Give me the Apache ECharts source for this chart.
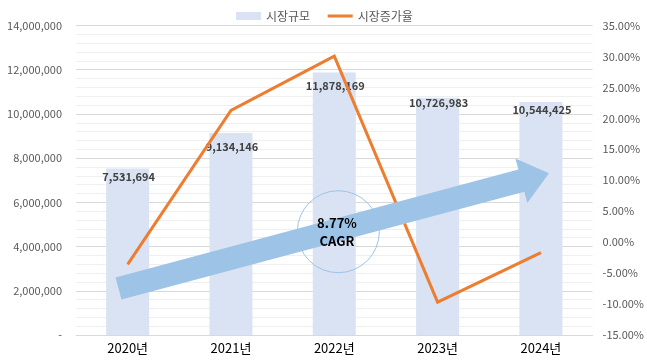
<!DOCTYPE html>
<html>
<head>
<meta charset="utf-8">
<script src="https://cdn.jsdelivr.net/npm/echarts@6/dist/echarts.min.js"></script>
<style>
html,body{margin:0;padding:0;background:#fff;}
#c{width:647px;height:360px;}
</style>
</head>
<body>
<div id="c"></div>
<script>
const categories = ['2020년', '2021년', '2022년', '2023년', '2024년'];
const marketSize = [7531694, 9134146, 11878169, 10726983, 10544425];
const growthRate = [-3.6, 21.28, 30.04, -9.69, -1.70];
const cagrText = '8.77%';
const cagrLabel = 'CAGR';
const seriesNames = ['시장규모', '시장증가율'];

// label nudges (style only)
const labelNudgeY = [2.6, 8.6, 7.7, -0.5, 2];

const font = '"Noto Sans CJK KR", "Noto Sans", sans-serif';
const chart = echarts.init(document.getElementById('c'), null, {renderer: 'canvas'});

function fmtNum(v) {
  if (v === 0) return '-';
  return v.toString().replace(/\B(?=(\d{3})+(?!\d))/g, ',');
}

// arrow annotation geometry
const T = [118.5, 288.5], P = [549, 173.3];
const dx = P[0] - T[0], dy = P[1] - T[1];
const L = Math.sqrt(dx * dx + dy * dy);
const ux = dx / L, uy = dy / L, nx = -uy, ny = ux;
const sw = 11.5, hw = 23, hl = 28.6;
function pt(a, b) { return [T[0] + ux * a + nx * b, T[1] + uy * a + ny * b]; }
const arrowPts = [pt(0, -sw), pt(L - hl, -sw), pt(L - hl, -hw), pt(L, 0), pt(L - hl, hw), pt(L - hl, sw), pt(0, sw)];

const option = {
  animation: false,
  textStyle: {fontFamily: font},
  legend: {
    top: 5,
    left: 231,
    itemGap: 16,
    itemWidth: 25,
    itemHeight: 8,
    textStyle: {color: '#595959', fontSize: 12, fontFamily: font},
    data: [
      {name: seriesNames[0], icon: 'rect'},
      {name: seriesNames[1], itemStyle: {opacity: 0}, lineStyle: {width: 3, color: '#ED7D31', opacity: 1}}
    ]
  },
  grid: {left: 76, right: 53, top: 25.5, bottom: 25, containLabel: false},
  xAxis: {
    type: 'category',
    data: categories,
    axisLine: {show: true, lineStyle: {color: '#d9d9d9', width: 1}},
    axisTick: {show: false},
    axisLabel: {color: '#000', fontSize: 13, margin: 7, fontFamily: font}
  },
  yAxis: [
    {
      type: 'value',
      min: 0, max: 14000000, interval: 2000000,
      axisLine: {show: false},
      axisTick: {show: false},
      axisLabel: {color: '#595959', fontSize: 11, margin: 14, formatter: fmtNum, fontFamily: font},
      splitLine: {show: true, lineStyle: {color: '#d9d9d9', width: 1}},
      minorTick: {show: false, splitNumber: 5},
      minorSplitLine: {show: true, lineStyle: {color: '#efefef', width: 1}}
    },
    {
      type: 'value',
      min: -15, max: 35, interval: 5,
      axisLine: {show: false},
      axisTick: {show: false},
      axisLabel: {color: '#595959', fontSize: 11, margin: 10, formatter: v => v.toFixed(2) + '%', fontFamily: font},
      splitLine: {show: false}
    }
  ],
  series: [
    {
      name: seriesNames[0],
      type: 'bar',
      yAxisIndex: 0,
      barWidth: 43,
      itemStyle: {color: '#DAE3F3'},
      z: 2,
      data: marketSize.map((v, i) => ({
        value: v,
        label: {
          show: true,
          position: 'insideTop',
          distance: 0,
          offset: [1, labelNudgeY[i]],
          formatter: p => fmtNum(p.value),
          color: '#404040',
          fontWeight: 'bold',
          fontSize: 11,
          fontFamily: font
        }
      }))
    },
    {
      name: seriesNames[1],
      type: 'line',
      yAxisIndex: 1,
      data: growthRate,
      symbol: 'none',
      z: 3,
      lineStyle: {color: '#ED7D31', width: 3, join: 'miter'},
      itemStyle: {color: '#ED7D31'}
    }
  ],
  graphic: [
    {
      type: 'circle',
      z: 50,
      shape: {cx: 338.3, cy: 231.7, r: 41},
      style: {fill: 'none', stroke: '#9DC3E6', lineWidth: 1}
    },
    {
      type: 'polygon',
      z: 51,
      shape: {points: arrowPts},
      style: {fill: '#9DC3E6'}
    },
    {
      type: 'text',
      z: 52,
      x: 337, y: 222.7,
      style: {text: cagrText, fill: '#000', font: 'bold 13px ' + font, align: 'center', verticalAlign: 'middle'}
    },
    {
      type: 'text',
      z: 52,
      x: 337, y: 240.7,
      style: {text: cagrLabel, fill: '#000', font: 'bold 13px ' + font, align: 'center', verticalAlign: 'middle'}
    }
  ]
};
chart.setOption(option);
</script>
</body>
</html>
